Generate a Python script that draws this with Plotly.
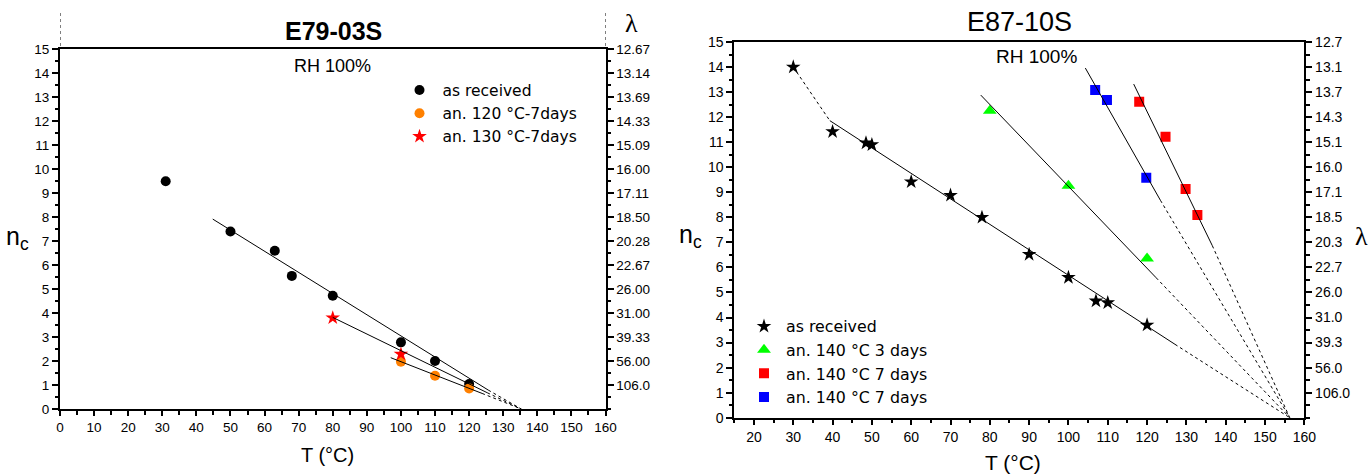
import plotly.graph_objects as go

# ---------------- E79-03S (left panel) ----------------
L_recv_T = [31, 50, 63, 68, 80, 100, 110, 120]
L_recv_n = [9.5, 7.4, 6.6, 5.55, 4.72, 2.78, 2.0, 1.04]
L_a120_T = [100, 110, 120]
L_a120_n = [1.97, 1.39, 0.86]
L_a130_T = [80, 100]
L_a130_n = [3.8, 2.29]
# linear fits (solid segment) and common extrapolated x-intercept
L_fit_recv_T = [44.8, 125.6]
L_fit_recv_n = [7.92, 0.79]
L_fit_a130_T = [80, 125.3]
L_fit_a130_n = [3.82, 0.68]
L_fit_a120_T = [97, 123.8]
L_fit_a120_n = [2.14, 0.65]
L_T0 = 135.3

L_xticks = list(range(0, 161, 10))
L_yticks = list(range(0, 16))
L_lambda_vals = list(range(1, 16))
L_lambda_text = ["106.0", "56.00", "39.33", "31.00", "26.00", "22.67", "20.28", "18.50",
                 "17.11", "16.00", "15.09", "14.33", "13.69", "13.14", "12.67"]

# ---------------- E87-10S (right panel) ----------------
R_recv_T = [30, 40, 48.5, 50, 60, 70, 78, 90, 100, 107, 110, 120]
R_recv_n = [14.0, 11.42, 10.97, 10.9, 9.42, 8.88, 8.0, 6.52, 5.6, 4.66, 4.59, 3.7]
R_a3d_T = [80, 100, 120]
R_a3d_n = [12.26, 9.26, 6.36]
R_a7r_T = [118, 124.7, 129.8, 132.8]
R_a7r_n = [12.61, 11.22, 9.13, 8.09]
R_a7b_T = [106.8, 109.8, 119.8]
R_a7b_n = [13.08, 12.68, 9.58]
# fits
R_fit_recv_T = [39.3, 127.1]
R_fit_recv_n = [11.86, 2.93]
R_fit_a3d_T = [77.7, 122.3]
R_fit_a3d_n = [12.88, 5.59]
R_fit_a7b_T = [104.3, 123.4]
R_fit_a7b_n = [13.96, 8.68]
R_fit_a7r_T = [116.6, 136.6]
R_fit_a7r_n = [13.32, 6.87]
R_T0 = 156.3

R_xticks = list(range(20, 161, 10))
R_yticks = list(range(0, 16))
R_lambda_vals = list(range(1, 16))
R_lambda_text = ["106.0", "56.0", "39.3", "31.0", "26.0", "22.7", "20.3", "18.5",
                 "17.1", "16.0", "15.1", "14.3", "13.7", "13.1", "12.7"]

FONT = "Liberation Sans, Arial, sans-serif"
LEGFONT = "DejaVu Sans, Liberation Sans, sans-serif"
SERIF = "Liberation Serif, Times New Roman, serif"

fig = go.Figure()


def solid(x, y, xa, ya):
    fig.add_trace(go.Scatter(x=x, y=y, mode="lines", xaxis=xa, yaxis=ya,
                             line=dict(color="black", width=1), showlegend=False,
                             hoverinfo="skip"))


def dotted(x, y, xa, ya):
    fig.add_trace(go.Scatter(x=x, y=y, mode="lines", xaxis=xa, yaxis=ya,
                             line=dict(color="black", width=1, dash="dot"), showlegend=False,
                             hoverinfo="skip"))


# left fit lines (drawn on the λ axis, which shares the n_c range)
for fT, fn in [(L_fit_recv_T, L_fit_recv_n), (L_fit_a130_T, L_fit_a130_n), (L_fit_a120_T, L_fit_a120_n)]:
    solid(fT, fn, "x", "y2")
    dotted([fT[-1], L_T0], [fn[-1], 0], "x", "y2")

# right fit lines
dotted([R_recv_T[0], R_fit_recv_T[0]], [R_recv_n[0], R_fit_recv_n[0]], "x2", "y4")
for fT, fn in [(R_fit_recv_T, R_fit_recv_n), (R_fit_a3d_T, R_fit_a3d_n),
               (R_fit_a7b_T, R_fit_a7b_n), (R_fit_a7r_T, R_fit_a7r_n)]:
    solid(fT, fn, "x2", "y4")
    dotted([fT[-1], R_T0], [fn[-1], 0], "x2", "y4")

# left markers
fig.add_trace(go.Scatter(x=L_recv_T, y=L_recv_n, mode="markers", name="as received",
                         marker=dict(symbol="circle", size=10, color="black"),
                         xaxis="x", yaxis="y", legend="legend"))
fig.add_trace(go.Scatter(x=L_a120_T, y=L_a120_n, mode="markers", name="an. 120 °C-7days",
                         marker=dict(symbol="circle", size=10, color="#FF8000"),
                         xaxis="x", yaxis="y", legend="legend"))
fig.add_trace(go.Scatter(x=L_a130_T, y=L_a130_n, mode="markers", name="an. 130 °C-7days",
                         marker=dict(symbol="star", size=11, color="#FF0000"),
                         xaxis="x", yaxis="y", legend="legend"))

# right markers
fig.add_trace(go.Scatter(x=R_recv_T, y=R_recv_n, mode="markers", name="as received",
                         marker=dict(symbol="star", size=11, color="black"),
                         xaxis="x2", yaxis="y3", legend="legend2"))
fig.add_trace(go.Scatter(x=R_a3d_T, y=R_a3d_n, mode="markers", name="an. 140 °C 3 days",
                         marker=dict(symbol="triangle-up", size=12, color="#00FF00"),
                         xaxis="x2", yaxis="y3", legend="legend2"))
fig.add_trace(go.Scatter(x=R_a7r_T, y=R_a7r_n, mode="markers", name="an. 140 °C 7 days",
                         marker=dict(symbol="square", size=10, color="#FF0000"),
                         xaxis="x2", yaxis="y3", legend="legend2"))
fig.add_trace(go.Scatter(x=R_a7b_T, y=R_a7b_n, mode="markers", name="an. 140 °C 7 days",
                         marker=dict(symbol="square", size=10, color="#0000FF"),
                         xaxis="x2", yaxis="y3", legend="legend2"))

W, H = 1369, 475
L_dom_x = [60 / W, 605.5 / W]
L_dom_y = [1 - 409 / H, 1 - 49.3 / H]
R_dom_x = [734.3 / W, 1304.3 / W]
R_dom_y = [1 - 417.7 / H, 1 - 42 / H]

axcommon = dict(showgrid=False, zeroline=False, showline=True, linecolor="black", linewidth=2,
                ticks="outside", tickcolor="black", tickwidth=2, ticklen=6, automargin=False,
                tickfont=dict(family=FONT, size=13.5, color="black"), mirror=True)


def xax(dom, rng, tv, anchor, fs):
    d = dict(axcommon)
    d.update(domain=dom, range=rng, tickvals=tv, anchor=anchor, ticklen=5,
             tickfont=dict(family=FONT, size=fs, color="black"),
             minor=dict(dtick=5, tick0=0, ticks="outside", ticklen=3.5, tickwidth=1.5,
                        tickcolor="black"))
    return d


def yax(dom, rng, tv, anchor, fs, **kw):
    d = dict(axcommon)
    d.update(domain=dom, range=rng, tickvals=tv, anchor=anchor,
             tickfont=dict(family=FONT, size=fs, color="black"),
             minor=dict(dtick=0.5, tick0=0, ticks="outside", ticklen=3.5, tickwidth=1.5,
                        tickcolor="black"))
    d.update(kw)
    return d


fig.update_layout(
    width=W, height=H, margin=dict(l=0, r=0, t=0, b=0, pad=0, autoexpand=False),
    paper_bgcolor="white", plot_bgcolor="white",
    xaxis=xax(L_dom_x, [0, 160], L_xticks, "y", 13.5),
    yaxis=yax(L_dom_y, [0, 15], L_yticks, "x", 13.5),
    yaxis2=yax(L_dom_y, [0, 15], L_lambda_vals, "x", 13.5, overlaying="y", side="right",
               ticktext=L_lambda_text),
    xaxis2=xax(R_dom_x, [15, 160], R_xticks, "y3", 14),
    yaxis3=yax(R_dom_y, [0, 15], R_yticks, "x2", 14),
    yaxis4=yax(R_dom_y, [0, 15], R_lambda_vals, "x2", 14, overlaying="y3", side="right",
               ticktext=R_lambda_text),
    legend=dict(x=396.5 / W, y=1 - 73.5 / H, xanchor="left", yanchor="top",
                font=dict(family=LEGFONT, size=15.5, color="black"), bgcolor="rgba(0,0,0,0)",
                tracegroupgap=0, itemwidth=36),
    legend2=dict(x=742 / W, y=1 - 309.5 / H, xanchor="left", yanchor="top",
                 font=dict(family=LEGFONT, size=15.8, color="black"), bgcolor="rgba(0,0,0,0)",
                 tracegroupgap=0, itemwidth=34),
)

ann = []


def A(text, x, y, size, family=FONT, xref="paper", yref="paper"):
    if xref == "paper":
        x = x / W
        y = 1 - y / H
    ann.append(dict(text=text, x=x, y=y, xref=xref, yref=yref, showarrow=False,
                    xanchor="center", yanchor="middle",
                    font=dict(family=family, size=size, color="black")))


A("<b>E79-03S</b>", 333, 30.5, 25)
A("E87-10S", 1019, 21.7, 27)
A("RH 100%", 80, 14.29, 18, xref="x", yref="y")
A("RH 100%", 91.8, 14.41, 19, xref="x2", yref="y3")
A("T (°C)", 327, 455, 20)
A("T (°C)", 1013.5, 462, 21)
A("n<sub>c</sub>", 17, 238, 25)
A("n<sub>c</sub>", 691, 236, 25)
A("λ", 631, 24, 26, family=SERIF)
A("λ", 1361, 237, 26, family=SERIF)
fig.update_layout(annotations=ann)

# dotted vertical guide lines above left panel
for xv in [0, 160]:
    fig.add_shape(type="line", xref="x", yref="paper", x0=xv, x1=xv,
                  y0=1 - 46 / H, y1=1 - 11 / H, line=dict(color="black", width=1, dash="dot"))

fig.write_html("out.html")
